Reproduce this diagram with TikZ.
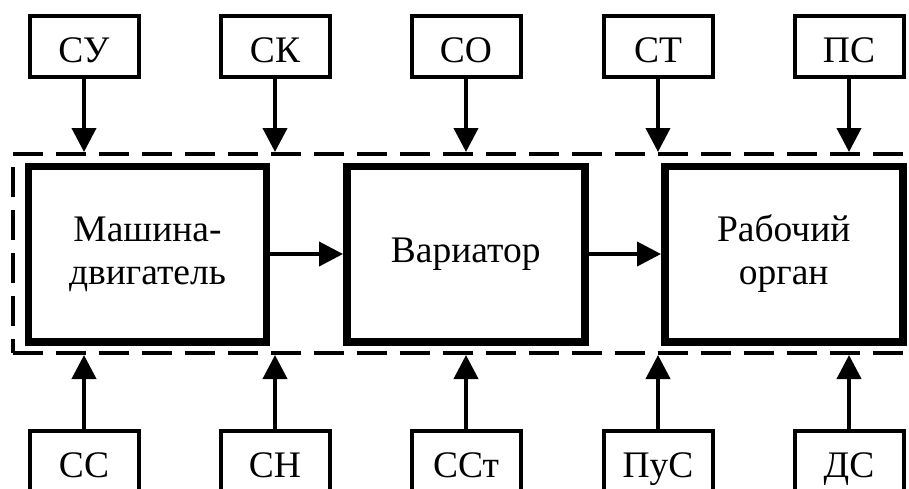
\documentclass[tikz,border=0pt]{standalone}
\usepackage{fontspec}
\setmainfont{Liberation Serif}
\usetikzlibrary{arrows.meta}
\begin{document}
\begin{tikzpicture}[x=1pt,y=-1pt,
  lbl/.style={font=\fontsize{37.5}{43}\selectfont},
  small/.style={draw,lbl,line width=4pt,minimum width=109pt,minimum height=61pt,inner sep=0pt,text height=31pt,text depth=0pt},
  big/.style={draw,lbl,line width=7.5pt,minimum width=238pt,minimum height=175.5pt,align=center,inner sep=0pt},
  arr/.style={line width=4pt,-{Triangle[length=24pt,width=24pt]}},
  sysbox/.style={draw,line width=4pt,dash pattern=on 30pt off 13pt,minimum width=904.5pt,minimum height=199pt,inner sep=0pt}]
\path[use as bounding box,clip] (0,0) rectangle (909,488);
\node[sysbox] (sys) at (464.75,253.5) {};
\node[big] (m) at (147.5,254) {Машина-\\двигатель};
\node[big] (v) at (465.75,254) {Вариатор};
\node[big] (r) at (783.75,254) {Рабочий\\орган};
% top boxes
\node[small] (su) at (84,46.5) {СУ};
\node[small] (sk) at (275,46.5) {СК};
\node[small] (so) at (466,46.5) {СО};
\node[small] (st) at (658,46.5) {СТ};
\node[small] (ps) at (849,46.5) {ПС};
% bottom boxes
\node[small] (ss) at (84,461.5) {СС};
\node[small] (sn) at (275,461.5) {СН};
\node[small] (sst) at (466,461.5) {ССт};
\node[small] (pus) at (658,461.5) {ПуС};
\node[small] (ds) at (849,461.5) {ДС};
% arrows
\foreach \n in {su,sk,so,st,ps}
  \draw[arr] (\n.south) -- (\n.south |- sys.north);
\foreach \n in {ss,sn,sst,pus,ds}
  \draw[arr] (\n.north) -- (\n.north |- sys.south);
\draw[arr] (m.east) -- (v.west);
\draw[arr] (v.east) -- (r.west);
\end{tikzpicture}
\end{document}
